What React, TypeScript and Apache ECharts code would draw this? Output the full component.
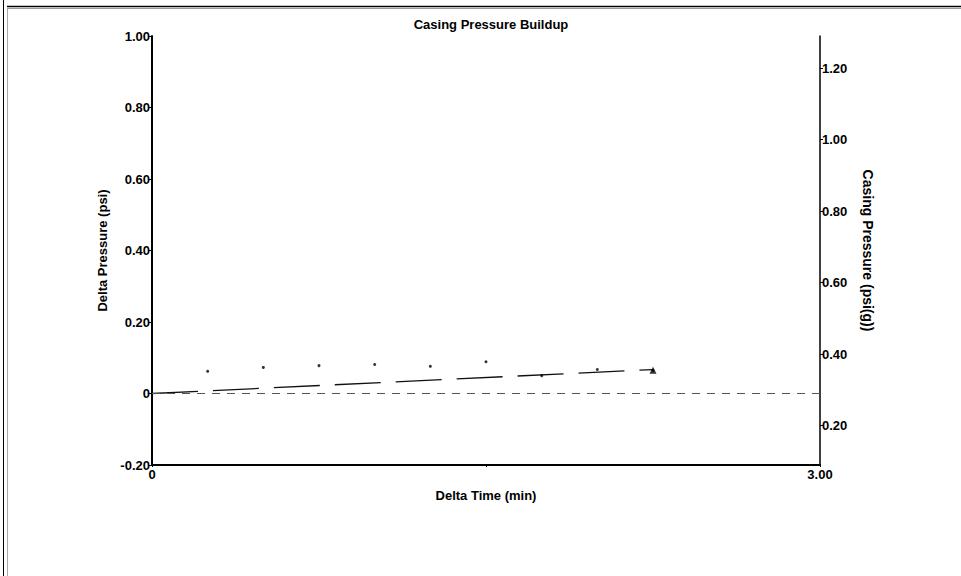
import React, { useEffect, useRef } from "react";
import * as echarts from "echarts";

const times = [0.25, 0.5, 0.75, 1.0, 1.25, 1.5, 1.75, 2.0, 2.25];
const deltaPressure = [0.062, 0.073, 0.078, 0.081, 0.076, 0.089, 0.05, 0.067, 0.065];
const trendX = [0, 2.25];
const trendY = [0, 0.067];
const lastPoint = [2.25, 0.065];
const leftTickFmt = (v: number) => (Math.abs(v) < 1e-9 ? "0" : v.toFixed(2));

const FONT = "'Liberation Sans', Arial, sans-serif";

export default function App() {
  const ref = useRef<HTMLDivElement>(null);
  useEffect(() => {
    document.body.style.margin = "0";
    const chart = echarts.init(ref.current!, null, { renderer: "svg" });
    const labelStyle = { color: "#000", fontFamily: FONT, fontWeight: "bold" as const, fontSize: 13 };
    chart.setOption({
      animation: false,
      backgroundColor: "#fff",
      title: {
        text: "Casing Pressure Buildup",
        left: 486,
        top: 13,
        textAlign: "center",
        textStyle: { ...labelStyle, fontSize: 13 },
      },
      grid: { left: 152, right: 141, top: 36, bottom: 111 },
      xAxis: {
        type: "value",
        min: 0,
        max: 3,
        interval: 1.5,
        name: "Delta Time (min)",
        nameLocation: "middle",
        nameGap: 24,
        nameTextStyle: labelStyle,
        axisLine: { show: true, onZero: false, lineStyle: { color: "#000", width: 2 } },
        axisTick: { show: true, length: 2, lineStyle: { color: "#000" } },
        axisLabel: {
          ...labelStyle,
          margin: 3,
          formatter: (v: number) => (v === 0 ? "0" : v === 3 ? "3.00" : ""),
        },
        splitLine: { show: false },
      },
      yAxis: [
        {
          type: "value",
          min: -0.2,
          max: 1.0,
          interval: 0.2,
          position: "left",
          name: "Delta Pressure (psi)",
          nameLocation: "middle",
          nameRotate: 90,
          nameGap: 43,
          nameTextStyle: labelStyle,
          axisLine: { show: true, onZero: false, lineStyle: { color: "#000", width: 2 } },
          axisTick: { show: true, length: 3, lineStyle: { color: "#000" } },
          axisLabel: { ...labelStyle, margin: 2, formatter: leftTickFmt },
          splitLine: { show: false },
        },
        {
          type: "value",
          min: 0.09,
          max: 1.29,
          position: "right",
          name: "Casing Pressure (psi(g))",
          nameLocation: "middle",
          nameRotate: -90,
          nameGap: 41,
          nameTextStyle: { ...labelStyle, fontSize: 14 },
          axisLine: { show: true, onZero: false, lineStyle: { color: "#000", width: 1.5 } },
          axisTick: { show: true, length: 3, lineStyle: { color: "#000" } },
          axisLabel: {
            ...labelStyle,
            margin: 2,
            showMinLabel: false,
            showMaxLabel: false,
            formatter: (v: number) => v.toFixed(2),
          },
          splitLine: { show: false },
        },
      ],
      series: [
        {
          type: "line",
          data: trendX.map((x, i) => [x, trendY[i]]),
          symbol: "none",
          lineStyle: { color: "#111", width: 1.3, type: [46, 15] },
          markLine: {
            silent: true,
            symbol: "none",
            label: { show: false },
            lineStyle: { color: "#555", width: 1, type: [8, 7] },
            data: [{ yAxis: 0 }],
          },
          z: 2,
        },
        {
          type: "scatter",
          data: times.map((t, i) => [t, deltaPressure[i]]),
          symbol: "circle",
          symbolSize: 3,
          itemStyle: { color: "#000" },
          z: 3,
        },
        {
          type: "scatter",
          data: [lastPoint],
          symbol: "triangle",
          symbolSize: 7,
          itemStyle: { color: "#000" },
          z: 4,
        },
      ],
      graphic: [
        { type: "line", shape: { x1: 3.5, y1: 0, x2: 3.5, y2: 576 }, style: { stroke: "#000", lineWidth: 1 } },
        { type: "line", shape: { x1: 7.5, y1: 8, x2: 7.5, y2: 576 }, style: { stroke: "#aaa", lineWidth: 1 } },
        { type: "line", shape: { x1: 7, y1: 6.5, x2: 961, y2: 6.5 }, style: { stroke: "#000", lineWidth: 1.5 } },
        { type: "line", shape: { x1: 7, y1: 8.5, x2: 961, y2: 8.5 }, style: { stroke: "#999", lineWidth: 1 } },
      ],
    });
    return () => chart.dispose();
  }, []);
  return <div ref={ref} style={{ width: 961, height: 576 }} />;
}
